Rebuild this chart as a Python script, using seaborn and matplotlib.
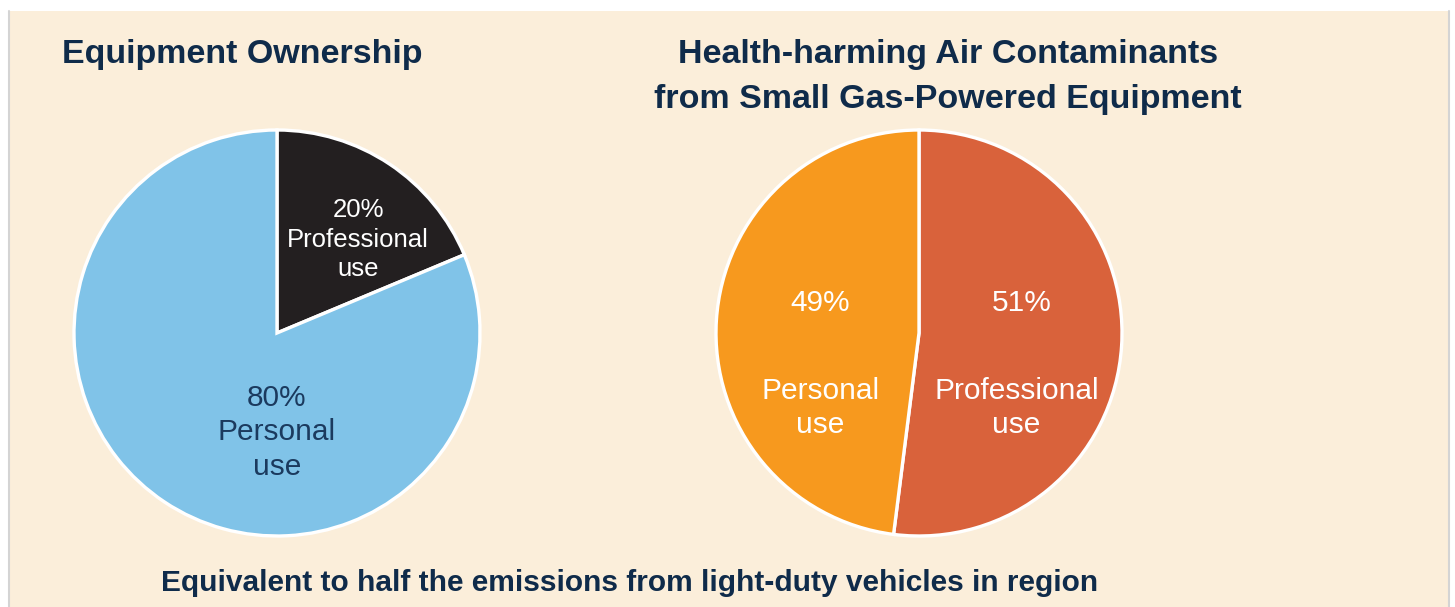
import matplotlib
matplotlib.use("Agg")
import matplotlib.pyplot as plt
import seaborn as sns
from matplotlib.patches import Rectangle
from matplotlib.lines import Line2D

# %% data ─────────────────────────────────────────────────────────────────────
own_groups = ["Professional use", "Personal use"]
own_share = [18.7, 81.3]          # wedge sizes as drawn
own_labels = ["20%", "80%"]

air_groups = ["Professional use", "Personal use"]
air_share = [52, 48]              # wedge sizes as drawn
air_labels = ["51%", "49%"]

title_left = "Equipment Ownership"
title_right = "Health-harming Air Contaminants\nfrom Small Gas-Powered Equipment"
footer = "Equivalent to half the emissions from light-duty vehicles in region"

# %% style ────────────────────────────────────────────────────────────────────
sns.set_theme(style="white")
plt.rcParams["font.family"] = ["Liberation Sans", "DejaVu Sans"]

BG = "#FBEEDA"
NAVY = "#0F2B4A"
own_colors = ["#231F20", "#80C3E8"]
air_colors = ["#D9623B", "#F7991E"]

W, H = 1455, 607
fig = plt.figure(figsize=(W / 100, H / 100), dpi=100, facecolor="white")
fig.patches.append(Rectangle((9 / W, 0), (1448 - 9) / W, 1 - 11 / H,
                             transform=fig.transFigure, facecolor=BG,
                             edgecolor="none", zorder=-5))
# soft side shadows of the panel
for xs in (8.5 / W, 1448.5 / W):
    fig.add_artist(Line2D([xs, xs], [0, 1 - 11 / H], transform=fig.transFigure,
                          color="#D4D4D4", linewidth=1.5, zorder=-4))

R = 203  # pie radius in px


def pie_axes(cx, cy):
    return fig.add_axes([(cx - R) / W, (H - cy - R) / H, 2 * R / W, 2 * R / H])


wedge_kw = dict(edgecolor="white", linewidth=2.4, clip_on=False)

# left pie
ax1 = pie_axes(277, 333)
ax1.pie(own_share, colors=own_colors, startangle=90, counterclock=False,
        radius=1, wedgeprops=wedge_kw)
ax1.set_xlim(-1.0, 1.0)
ax1.set_ylim(-1.0, 1.0)
ax1.axis("off")
ax1.text(0.40, 0.46, f"{own_labels[0]}\nProfessional\nuse", color="white",
         fontsize=18.5, ha="center", va="center", linespacing=1.3)
ax1.text(0.0, -0.49, f"{own_labels[1]}\nPersonal\nuse", color="#1B3A5E",
         fontsize=21.5, ha="center", va="center", linespacing=1.29)

# right pie
ax2 = pie_axes(919, 333)
ax2.pie(air_share, colors=air_colors, startangle=90, counterclock=False,
        radius=1, wedgeprops=wedge_kw)
ax2.set_xlim(-1.0, 1.0)
ax2.set_ylim(-1.0, 1.0)
ax2.axis("off")
ax2.text(0.508, 0.15, air_labels[0], color="white", fontsize=21.5,
         ha="center", va="center")
ax2.text(0.48, -0.37, "Professional\nuse", color="white", fontsize=21.5,
         ha="center", va="center", linespacing=1.3)
ax2.text(-0.485, 0.15, air_labels[1], color="white", fontsize=21.5,
         ha="center", va="center")
ax2.text(-0.485, -0.37, "Personal\nuse", color="white", fontsize=21.5,
         ha="center", va="center", linespacing=1.3)

# titles
fig.text(62 / W, 1 - 54 / H, title_left, color=NAVY, fontsize=24.5,
         fontweight="bold", ha="left", va="center")
fig.text(948 / W, 1 - 77 / H, title_right, color=NAVY, fontsize=24.5,
         fontweight="bold", ha="center", va="center", linespacing=1.6)
fig.text(630 / W, 1 - 583 / H, footer, color=NAVY, fontsize=21.5,
         fontweight="bold", ha="center", va="center")

fig.savefig("out.png", dpi=100, facecolor="white")
